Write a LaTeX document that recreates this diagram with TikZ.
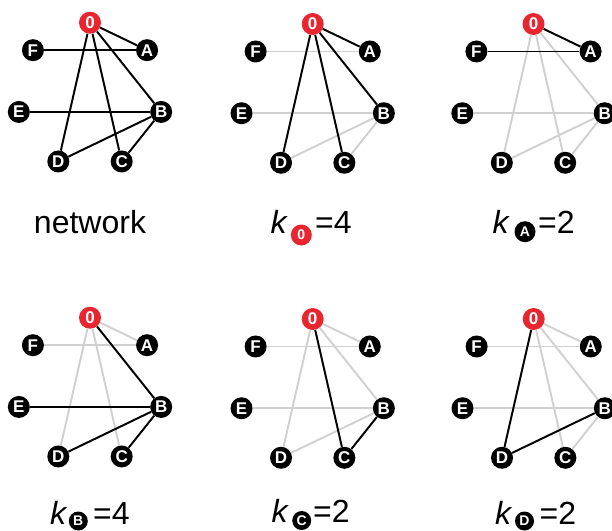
\documentclass[tikz,border=0pt]{standalone}
\usepackage{fontspec}
\setmainfont{Liberation Sans}
\definecolor{nodered}{RGB}{232,38,48}
\definecolor{edgegrey}{RGB}{208,208,208}
\tikzset{
  vtx/.style={circle, fill=black, text=white, minimum size=22pt, inner sep=0pt,
    font=\fontsize{17}{17}\selectfont\bfseries},
  rvtx/.style={vtx, fill=nodered},
  subv/.style={circle, fill=black, text=white, minimum size=19pt, inner sep=0pt,
    font=\fontsize{14}{14}\selectfont\bfseries},
  rsubv/.style={subv, fill=nodered},
  blk/.style={draw=black, line width=1.9pt},
  gry/.style={draw=edgegrey, line width=1.9pt},
  lbl/.style={font=\fontsize{32}{32}\selectfont, inner sep=0pt, anchor=base west},
}
\newcommand\netpanel[4]{%
  \node[rvtx] (#1-0) at (#2,#3-73) {0};
  \node[vtx] (#1-A) at (#2+57.07,#3-45.52) {A};
  \node[vtx] (#1-B) at (#2+71.17,#3+16.24) {B};
  \node[vtx] (#1-C) at (#2+31.67,#3+65.77) {C};
  \node[vtx] (#1-D) at (#2-31.67,#3+65.77) {D};
  \node[vtx] (#1-E) at (#2-71.17,#3+16.24) {E};
  \node[vtx] (#1-F) at (#2-57.07,#3-45.52) {F};
  \foreach \a/\b in {0/A,0/B,0/C,0/D,A/F,B/E,B/D,B/C}
    \draw[gry] (#1-\a) -- (#1-\b);
  \foreach \a/\b in {#4}
    \draw[blk] (#1-\a) -- (#1-\b);
}
\begin{document}
\begin{tikzpicture}[x=1pt,y=-1pt]
\useasboundingbox (0,0) rectangle (612,530);
\fill[white] (0,0) rectangle (612,530);
\netpanel{p1}{90}{95.7}{0/A,0/B,0/C,0/D,A/F,B/E,B/D,B/C}
\netpanel{p2}{312.7}{97}{0/A,0/B,0/C,0/D}
\netpanel{p3}{533.5}{97}{0/A,A/F}
\netpanel{p4}{90}{390.7}{0/B,B/E,B/D,B/C}
\netpanel{p5}{312.7}{392}{0/C,B/C}
\netpanel{p6}{533.7}{392}{0/D,B/D}
% labels
\node[font=\fontsize{32}{32}\selectfont, inner sep=0pt, anchor=base] (lnet) at (90,233) {network};
\node[lbl] (l0k) at (270.5,233) {\itshape k};
\node[rsubv, minimum size=21pt] (l0s) at (301.3,235) {0};
\node[lbl] (l0v) at (315,233) {=4};
\node[lbl] (lAk) at (492.5,233) {\itshape k};
\node[subv, minimum size=21pt] (lAs) at (525,231.7) {A};
\node[lbl] (lAv) at (538,233) {=2};
\node[lbl] (lBk) at (50,524) {\itshape k};
\node[subv] (lBs) at (78.3,521) {B};
\node[lbl] (lBv) at (93,524) {=4};
\node[lbl] (lCk) at (271.5,522) {\itshape k};
\node[subv] (lCs) at (301.7,520.5) {C};
\node[lbl] (lCv) at (313,522) {=2};
\node[lbl] (lDk) at (495,524) {\itshape k};
\node[subv] (lDs) at (524.5,521) {D};
\node[lbl] (lDv) at (539.5,524) {=2};
\end{tikzpicture}
\end{document}
